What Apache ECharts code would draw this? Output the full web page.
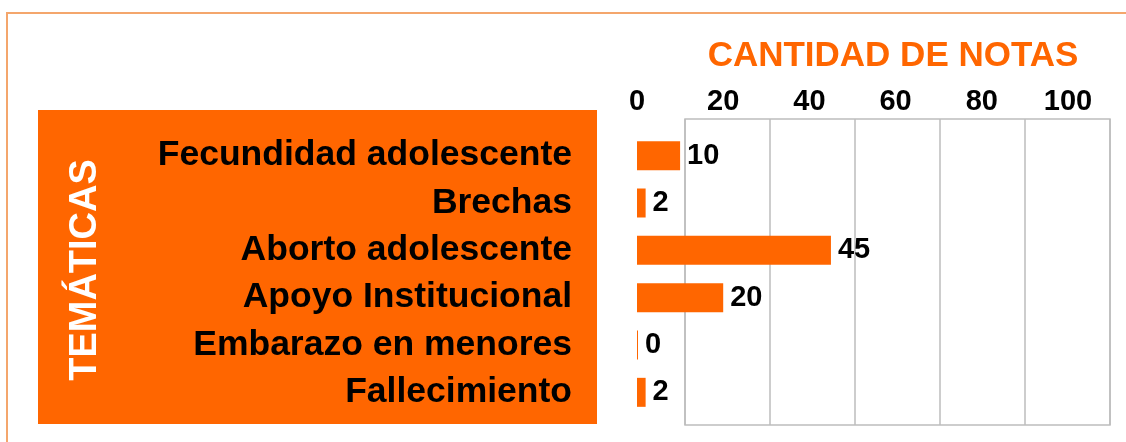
<!DOCTYPE html>
<html>
<head>
<meta charset="utf-8">
<script src="https://cdn.jsdelivr.net/npm/echarts@6/dist/echarts.min.js"></script>
<style>
  html, body { margin: 0; padding: 0; background: #fff; }
  #chart { width: 1126px; height: 442px; }
</style>
</head>
<body>
<div id="chart"></div>
<script>
const temas = [
  'Fecundidad adolescente',
  'Brechas',
  'Aborto adolescente',
  'Apoyo Institucional',
  'Embarazo en menores',
  'Fallecimiento'
];
const notas = [10, 2, 45, 20, 0, 2];
const ticks = [0, 20, 40, 60, 80, 100];

const naranja = '#FF6600';
const fuente = '"Liberation Sans", Arial, sans-serif';

const chart = echarts.init(document.getElementById('chart'), null, { renderer: 'canvas' });

chart.setOption({
  backgroundColor: '#fff',
  animation: false,
  graphic: [
    // marco exterior (solo izquierda y arriba visibles)
    {
      type: 'rect', z: -10,
      shape: { x: 7, y: 13, width: 1300, height: 600 },
      style: { fill: null, stroke: '#F4A66C', lineWidth: 2 }
    },
    // caja naranja de temáticas
    {
      type: 'rect', z: -5,
      shape: { x: 38, y: 110, width: 559, height: 314 },
      style: { fill: naranja }
    },
    {
      type: 'text', z: 5,
      x: 86, y: 270, rotation: Math.PI / 2,
      style: {
        text: 'TEMÁTICAS', fill: '#fff', font: 'bold 38px ' + fuente,
        textAlign: 'center', textVerticalAlign: 'middle'
      }
    },
    {
      type: 'text', z: 5,
      x: 893, y: 56,
      style: {
        text: 'CANTIDAD DE NOTAS', fill: naranja, font: 'bold 35px ' + fuente,
        textAlign: 'center', textVerticalAlign: 'middle'
      }
    }
  ],
  grid: [
    { left: 637, width: 431, top: 132, height: 284 },
    {
      left: 685, width: 425, top: 119, height: 306,
      show: true, borderColor: '#BDBDBD', borderWidth: 1.5, backgroundColor: 'transparent'
    }
  ],
  xAxis: [
    {
      type: 'value', gridIndex: 0, position: 'top',
      min: ticks[0], max: ticks[ticks.length - 1], interval: 20,
      axisLine: { show: false }, axisTick: { show: false }, splitLine: { show: false },
      axisLabel: {
        margin: 16, color: '#000', fontSize: 29, fontWeight: 'bold', fontFamily: fuente,
        formatter: v => (ticks.includes(v) ? String(v) : '')
      }
    },
    {
      type: 'value', gridIndex: 1, min: 0, max: 100, interval: 20,
      axisLine: { show: false }, axisTick: { show: false }, axisLabel: { show: false },
      splitLine: { show: true, lineStyle: { color: '#BDBDBD', width: 1.5 } }
    }
  ],
  yAxis: [
    {
      type: 'category', gridIndex: 0, data: temas, inverse: true,
      axisLine: { show: false }, axisTick: { show: false },
      axisLabel: {
        interval: 0, margin: 65, color: '#000', fontSize: 35.5, fontWeight: 'bold', fontFamily: fuente
      }
    },
    {
      type: 'value', gridIndex: 1, show: false,
      splitLine: { show: false }
    }
  ],
  series: [
    {
      type: 'bar', xAxisIndex: 0, yAxisIndex: 0, z: 5,
      data: notas,
      barWidth: 29,
      barMinHeight: 1,
      itemStyle: { color: naranja },
      label: {
        show: true, position: 'right', distance: 7,
        color: '#000', fontSize: 29, fontWeight: 'bold', fontFamily: fuente
      }
    }
  ]
});
</script>
</body>
</html>
